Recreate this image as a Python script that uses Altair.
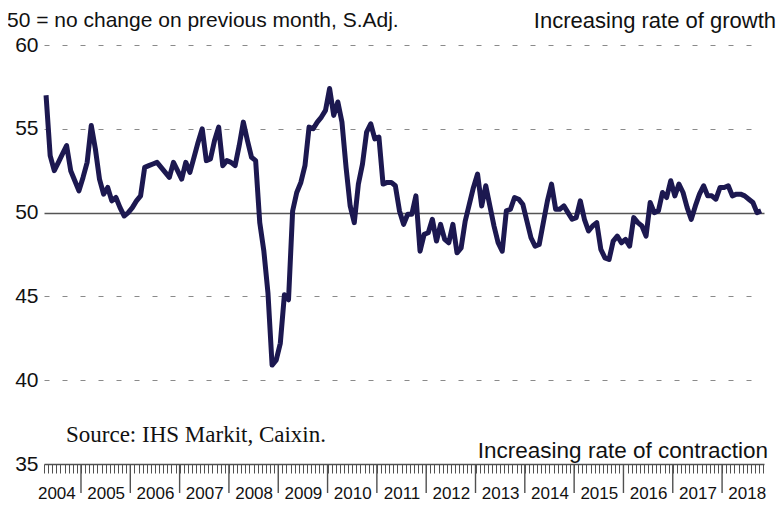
import altair as alt
import pandas as pd

# Monthly PMI readings (first value = April 2004, last = October 2018)
first_year = 2004
first_month = 4
pmi_2004 = [57.0, 53.4, 52.5, 53.0, 53.5, 54.0, 52.5, 51.9, 51.3]
pmi_2005 = [52.1, 53.0, 55.2, 53.8, 52.0, 51.1, 51.5, 50.7, 50.9, 50.3, 49.8, 50.0]
pmi_2006 = [50.3, 50.7, 51.0, 52.7, 52.8, 52.9, 53.0, 52.7, 52.4, 52.1, 53.0, 52.5]
pmi_2007 = [52.0, 53.0, 52.4, 53.3, 54.2, 55.0, 53.1, 53.2, 54.3, 55.1, 52.8, 53.1]
pmi_2008 = [53.0, 52.8, 54.0, 55.4, 54.3, 53.3, 53.1, 49.4, 47.7, 45.2, 40.9, 41.2]
pmi_2009 = [42.2, 45.1, 44.8, 50.1, 51.2, 51.8, 52.8, 55.1, 55.0, 55.4, 55.7, 56.1]
pmi_2010 = [57.4, 55.8, 56.6, 55.4, 52.7, 50.4, 49.4, 51.7, 52.9, 54.8, 55.3, 54.4]
pmi_2011 = [54.5, 51.7, 51.8, 51.8, 51.6, 50.1, 49.3, 49.9, 49.9, 51.0, 47.7, 48.7]
pmi_2012 = [48.8, 49.6, 48.3, 49.3, 48.4, 48.2, 49.3, 47.6, 47.9, 49.5, 50.5, 51.5]
pmi_2013 = [52.3, 50.4, 51.6, 50.4, 49.2, 48.2, 47.7, 50.1, 50.2, 50.9, 50.8, 50.5]
pmi_2014 = [49.5, 48.5, 48.0, 48.1, 49.4, 50.7, 51.7, 50.2, 50.2, 50.4, 50.0, 49.6]
pmi_2015 = [49.7, 50.7, 49.6, 48.9, 49.2, 49.4, 47.8, 47.3, 47.2, 48.3, 48.6, 48.2]
pmi_2016 = [48.4, 48.0, 49.7, 49.4, 49.2, 48.6, 50.6, 50.0, 50.1, 51.2, 50.9, 51.9]
pmi_2017 = [51.0, 51.7, 51.2, 50.3, 49.6, 50.4, 51.1, 51.6, 51.0, 51.0, 50.8, 51.5]
pmi_2018 = [51.5, 51.6, 51.0, 51.1, 51.1, 51.0, 50.8, 50.6, 50.0, 50.1]

series = [pmi_2004, pmi_2005, pmi_2006, pmi_2007, pmi_2008, pmi_2009, pmi_2010,
          pmi_2011, pmi_2012, pmi_2013, pmi_2014, pmi_2015, pmi_2016, pmi_2017, pmi_2018]

y_ticks = [35, 40, 45, 50, 55, 60]
years = list(range(2004, 2019))
x_domain = [2004.25, 2018.85]
year_tick_bottom = 33.27  # how far below the axis the year separators hang (in y units)

rows = []
for i, vals in enumerate(series):
    yr = first_year + i
    start = first_month if i == 0 else 1
    for j, v in enumerate(vals):
        mo = start + j
        rows.append({"t": yr + (mo - 1) / 12 + 1 / 24, "pmi": v})
df = pd.DataFrame(rows)

month_ticks = [round(yr + k / 12, 5) for yr in years for k in range(12)
               if x_domain[0] - 1e-6 <= yr + k / 12 <= x_domain[1]]
year_ticks = [float(yr) for yr in years if x_domain[0] <= yr <= x_domain[1]]

FONT = "Liberation Sans"
x_scale = alt.Scale(domain=x_domain, nice=False, zero=False)
y_scale = alt.Scale(domain=[35, 60], nice=False, zero=False)

x_axis = alt.Axis(
    values=month_ticks,
    orient="bottom",
    title=None,
    grid=False,
    domainColor="#505050",
    domainWidth=1.5,
    tickColor="#505050",
    tickWidth=1,
    tickSize=9,
    labelExpr="abs(datum.value - floor(datum.value) - 0.5) < 0.01 ? '' + floor(datum.value) : ''",
    labelFont=FONT,
    labelFontSize=17,
    labelColor="#111111",
    labelPadding=12,
    labelOverlap=False,
    labelFlush=False,
)

y_axis = alt.Axis(
    values=y_ticks,
    title=None,
    domain=False,
    ticks=False,
    tickSize=0,
    labelFont=FONT,
    labelFontSize=21,
    labelColor="#111111",
    labelPadding=6,
    grid=True,
    gridDash={"condition": {"test": "datum.value == 50", "value": [1, 0]}, "value": [5, 13]},
    gridColor={"condition": {"test": "datum.value == 50", "value": "#555555"}, "value": "#8a8a8a"},
    gridWidth={"condition": {"test": "datum.value == 50", "value": 1.5}, "value": 1},
    gridOpacity={"condition": {"test": "datum.value == 35", "value": 0}, "value": 1},
)

line = alt.Chart(df).mark_line(color="#1c1850", strokeWidth=5, strokeJoin="round").encode(
    x=alt.X("t:Q", scale=x_scale, axis=x_axis),
    y=alt.Y("pmi:Q", scale=y_scale, axis=y_axis),
)

# long separator ticks at each new year, hanging below the x axis
year_df = pd.DataFrame({"t": year_ticks, "top": [35.0] * len(year_ticks),
                        "bottom": [year_tick_bottom] * len(year_ticks)})
year_marks = alt.Chart(year_df).mark_rule(color="#505050", strokeWidth=1.4).encode(
    x=alt.X("t:Q", scale=x_scale, axis=x_axis),
    y=alt.Y("top:Q", scale=y_scale, axis=y_axis),
    y2="bottom:Q",
)

one = pd.DataFrame({"k": [0]})

def note(text, x, y, align, size, font=FONT):
    return alt.Chart(one).mark_text(
        text=text, align=align, baseline="alphabetic", fontSize=size, font=font, color="#111111"
    ).encode(x=alt.value(x), y=alt.value(y))

notes = [
    note("50 = no change on previous month, S.Adj.", -37, -18, "left", 21),
    note("Increasing rate of growth", 732, -17, "right", 22),
    note("Source: IHS Markit, Caixin.", 22, 397, "left", 23, "Liberation Serif"),
    note("Increasing rate of contraction", 724, 413, "right", 22.5),
]

chart = alt.layer(line, *notes, year_marks).properties(
    width=720,
    height=419,
    autosize=alt.AutoSizeParams(type="none"),
    padding={"left": 36, "top": 37, "right": 12, "bottom": 38},
    background="white",
).configure_view(stroke=None)

chart.save("out.html", embed_options={"renderer": "svg", "actions": False})
